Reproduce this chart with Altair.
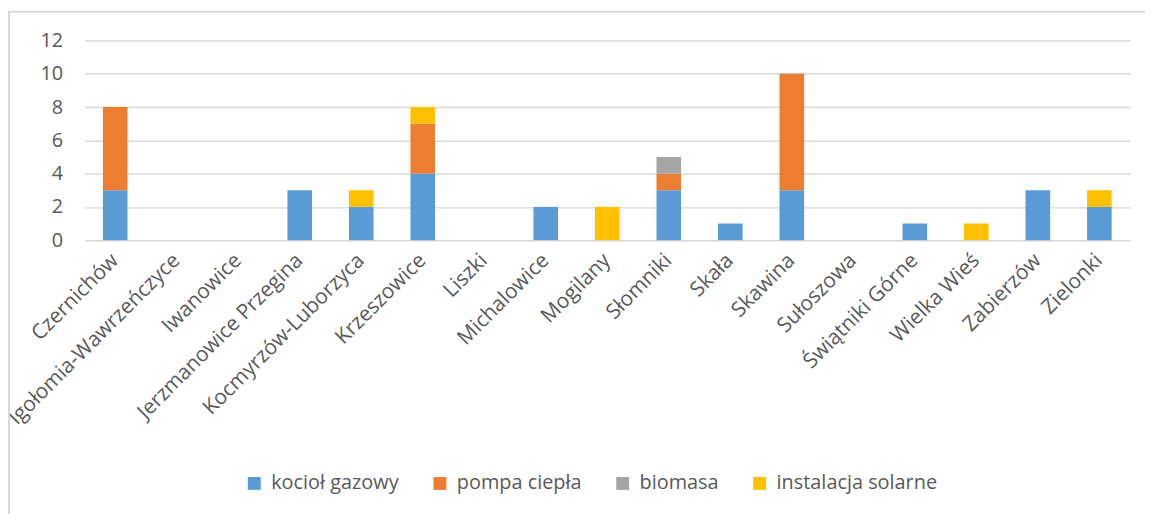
import altair as alt
import pandas as pd

categories = ["Czernichów", "Igołomia-Wawrzeńczyce", "Iwanowice", "Jerzmanowice Przegina",
              "Kocmyrzów-Luborzyca", "Krzeszowice", "Liszki", "Michalowice", "Mogilany",
              "Słomniki", "Skała", "Skawina", "Sułoszowa", "Świątniki Górne", "Wielka Wieś",
              "Zabierzów", "Zielonki"]
kociol_gazowy = [3, 0, 0, 3, 2, 4, 0, 2, 0, 3, 1, 3, 0, 1, 0, 3, 2]
pompa_ciepla = [5, 0, 0, 0, 0, 3, 0, 0, 0, 1, 0, 7, 0, 0, 0, 0, 0]
biomasa = [0, 0, 0, 0, 0, 0, 0, 0, 0, 1, 0, 0, 0, 0, 0, 0, 0]
instalacja_solarne = [0, 0, 0, 0, 1, 1, 0, 0, 2, 0, 0, 0, 0, 0, 1, 0, 1]

series_names = ["kocioł gazowy", "pompa ciepła", "biomasa", "instalacja solarne"]
series_values = [kociol_gazowy, pompa_ciepla, biomasa, instalacja_solarne]
series_colors = ["#5B9BD5", "#ED7D31", "#A5A5A5", "#FFC000"]

rows = []
for si, (name, vals) in enumerate(zip(series_names, series_values)):
    for c, v in zip(categories, vals):
        rows.append({"gmina": c, "typ": name, "liczba": v, "ord": si})
df = pd.DataFrame(rows)

W, H = 1053, 201
FONT = "Open Sans"
TXT = "#595959"

bars = alt.Chart(df).mark_bar(stroke=None).encode(
    x=alt.X("gmina:N", sort=categories,
            scale=alt.Scale(paddingInner=0.6, paddingOuter=0.3),
            axis=alt.Axis(title=None, labelAngle=-45, labelAlign="right", labelBaseline="middle",
                          labelPadding=17, ticks=False, domain=False, grid=False,
                          labelFontSize=21, labelColor=TXT, labelFont=FONT, labelLimit=400)),
    y=alt.Y("liczba:Q", stack="zero",
            scale=alt.Scale(domain=[0, 12]),
            axis=alt.Axis(title=None, values=[0, 2, 4, 6, 8, 10, 12], ticks=False, domain=False,
                          gridColor="#D9D9D9", gridWidth=1.5, labelPadding=22,
                          labelFontSize=20, labelColor=TXT, labelFont=FONT)),
    color=alt.Color("typ:N", sort=series_names,
                    scale=alt.Scale(domain=series_names, range=series_colors),
                    legend=alt.Legend(title=None, orient="none", direction="horizontal",
                                      legendX=161, legendY=436, symbolType="square",
                                      symbolSize=169, symbolStrokeWidth=0,
                                      labelFontSize=20, labelColor=TXT, labelFont=FONT,
                                      labelOffset=7, columnPadding=31, labelLimit=400)),
    order=alt.Order("ord:Q", sort="ascending"),
)

border = alt.Chart(pd.DataFrame({"k": [0]})).mark_rect(
    fill=None, stroke="#D9D9D9", strokeWidth=2
).encode(
    x=alt.value(-76), x2=alt.value(W + 40),
    y=alt.value(-29), y2=alt.value(H + 300),
)

chart = alt.layer(border, bars).properties(
    width=W, height=H,
    autosize=alt.AutoSizeParams(type="none"),
    padding={"left": 77, "top": 31, "right": 15, "bottom": 274},
).configure_view(stroke=None)

chart.save("out.html", embed_options={"renderer": "svg", "actions": False})
